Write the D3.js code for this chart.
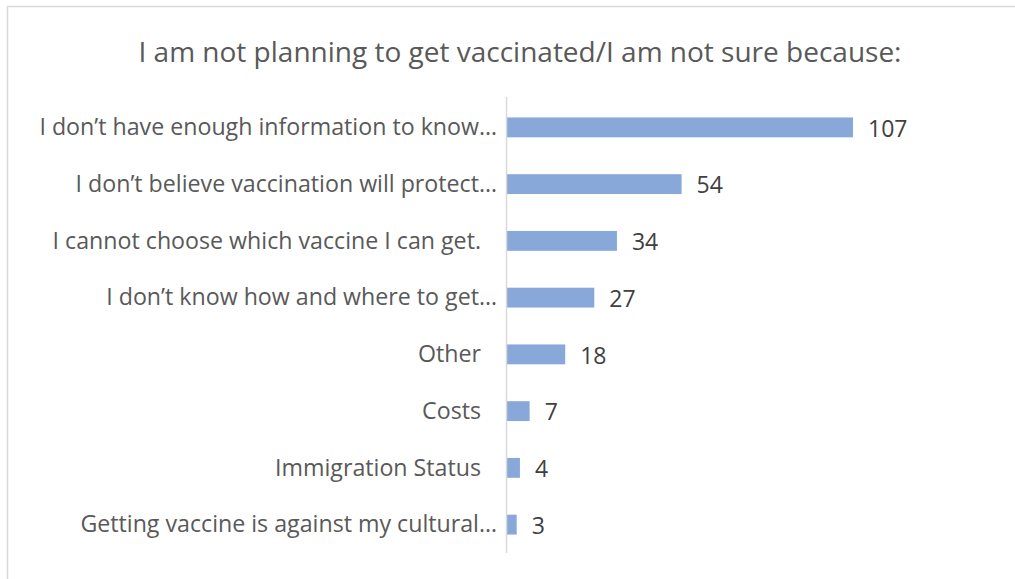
<!DOCTYPE html>
<html>
<head>
<meta charset="utf-8">
<script src="https://cdn.jsdelivr.net/npm/d3@7"></script>
<style>
  html, body { margin: 0; padding: 0; background: #fff; }
  svg text { font-family: "Open Sans", "Noto Sans", sans-serif; }
</style>
</head>
<body>
<svg id="chart" width="1015" height="579"></svg>
<script>
const title = "I am not planning to get vaccinated/I am not sure because:";
const categories = [
  "I don\u2019t have enough information to know\u2026",
  "I don\u2019t believe vaccination will protect\u2026",
  "I cannot choose which vaccine I can get. ",
  "I don\u2019t know how and where to get\u2026",
  "Other",
  "Costs",
  "Immigration Status",
  "Getting vaccine is against my cultural\u2026"
];
const values = [107, 54, 34, 27, 18, 7, 4, 3];

const svg = d3.select("#chart");

// chart border
svg.append("rect")
  .attr("x", 7.5).attr("y", 6.5)
  .attr("width", 1020).attr("height", 590)
  .attr("fill", "#fff").attr("stroke", "#d9d9d9").attr("stroke-width", 1.5);

// title
svg.append("text")
  .attr("x", 520).attr("y", 62)
  .attr("text-anchor", "middle")
  .attr("fill", "#595959")
  .attr("font-size", 28)
  .text(title);

const x0 = 507;
const x = d3.scaleLinear().domain([0, 107]).range([x0, 853]);
const y = d3.scaleBand().domain(categories).range([99, 553])
  .paddingInner(0.65).paddingOuter(0.325);

// bars
svg.append("g").selectAll("rect")
  .data(values)
  .join("rect")
  .attr("x", x(0))
  .attr("y", (d, i) => y(categories[i]))
  .attr("width", d => x(d) - x(0))
  .attr("height", y.bandwidth())
  .attr("fill", "#88a8da");

// category axis
const axis = d3.axisLeft(y).tickSize(0).tickPadding(26);
const gAxis = svg.append("g").attr("transform", `translate(${x0},0)`).call(axis);
gAxis.select(".domain").remove();
gAxis.selectAll("text")
  .attr("fill", "#595959")
  .attr("font-size", 23.2)
  .attr("font-family", "'Open Sans', sans-serif")
  .attr("dx", d => d.endsWith("\u2026") ? 16 : 0)
  .attr("dy", "0.33em");

svg.append("line")
  .attr("x1", x0 - 0.5).attr("x2", x0 - 0.5)
  .attr("y1", 97).attr("y2", 553)
  .attr("stroke", "#d9d9d9").attr("stroke-width", 1.5);

// value labels
svg.append("g").selectAll("text")
  .data(values)
  .join("text")
  .attr("x", d => x(d) + 15)
  .attr("y", (d, i) => y(categories[i]) + y.bandwidth() / 2 + 1)
  .attr("dy", "0.36em")
  .attr("fill", "#404040")
  .attr("font-size", 23)
  .text(d => d);
</script>
</body>
</html>
